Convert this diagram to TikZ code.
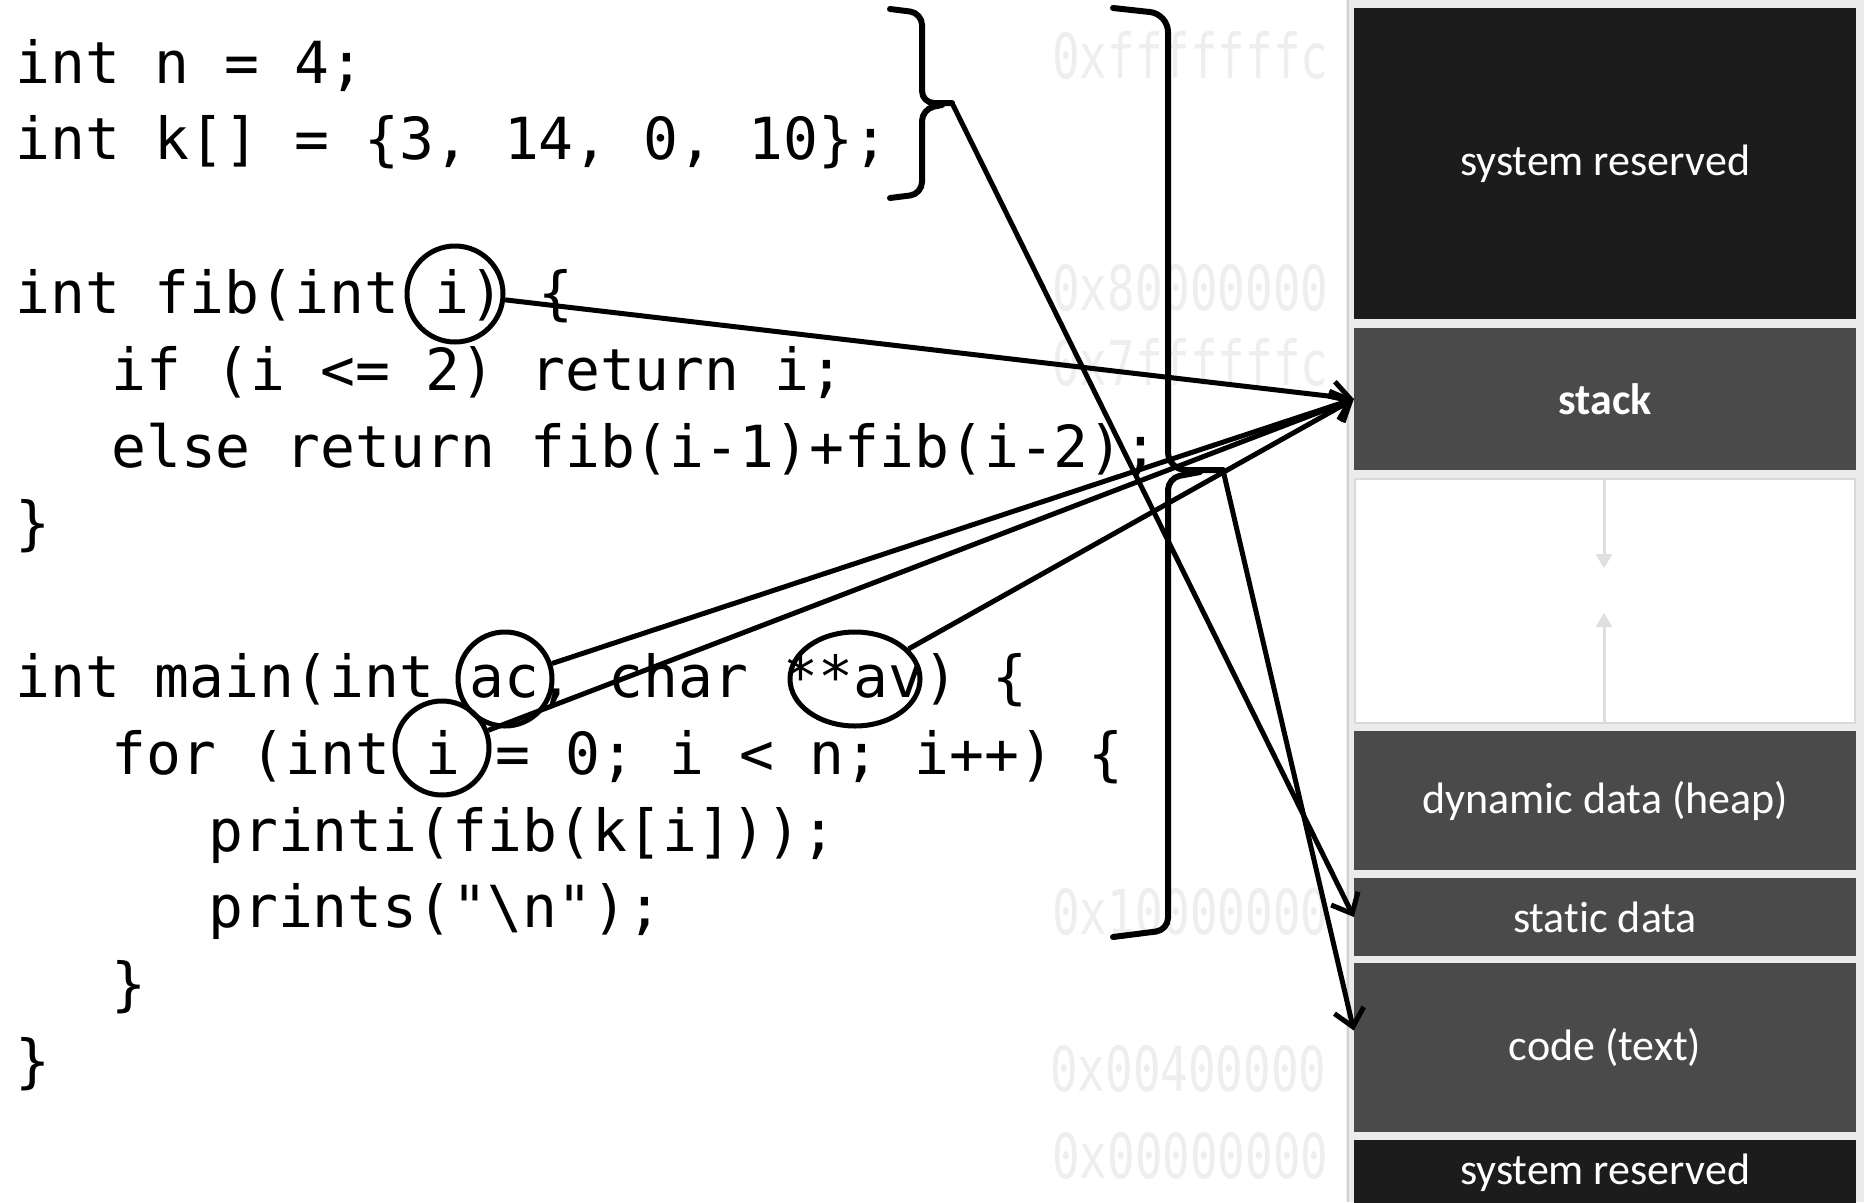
\documentclass[tikz,border=0pt]{standalone}
\usepackage{fontspec}
\setmonofont{DejaVu Sans Mono}
\newfontfamily\memfont{Carlito}[Ligatures=CommonOff]
\usetikzlibrary{arrows.meta,shapes.geometric}
\definecolor{memblack}{HTML}{1C1C1C}
\definecolor{memgray}{HTML}{4A4A4A}
\definecolor{panelgray}{HTML}{EBEBEB}
\definecolor{ghost}{HTML}{EEEEEE}
\begin{document}
\begin{tikzpicture}[x=1pt,y=-1pt,
  codeline/.style={anchor=base west, inner sep=0pt, font=\ttfamily\fontsize{58}{70}\selectfont},
  addr/.style={text=ghost, inner sep=0pt, anchor=west, font=\ttfamily\fontsize{62}{70}\selectfont},
  memblock/.style={inner sep=0pt, minimum width=502pt, text=white, font=\memfont\fontsize{44}{50}\selectfont},
  ring/.style={draw, line width=5pt, inner sep=0pt},
  brk/.style={line width=6pt, rounded corners=12pt, line cap=round},
  conn/.style={line width=5pt, -{Straight Barb[length=17pt,width=30pt]}},
  growth/.style={draw=gray!25, line width=3pt, -{Triangle[length=14pt,width=16pt]}}
]
\useasboundingbox (0,0) rectangle (1868,1202);
\fill[white] (0,0) rectangle (1868,1202);

% memory panel
\fill[panelgray] (1346,0) rectangle (1864,1202);
\draw[gray!35, line width=2pt] (1348,0) -- (1348,1202);
\node[memblock, fill=memblack, minimum height=311pt] (msys1) at (1605,163.5) {system reserved};
\node[memblock, fill=memgray, minimum height=142pt, font=\memfont\bfseries\fontsize{44}{50}\selectfont] (mstack) at (1605,399) {stack};
\node[memblock, fill=white, draw=gray!30, line width=1.5pt, minimum width=500pt, minimum height=244pt] (mfree) at (1605,601) {};
\node[memblock, fill=memgray, minimum height=139pt] (mheap) at (1605,800.5) {dynamic data (heap)};
\node[memblock, fill=memgray, minimum height=78pt] (mstatic) at (1605,917) {stat\kern0pt ic data};
\node[memblock, fill=memgray, minimum height=169pt] (mcode) at (1605,1047.5) {code (text)};
\node[memblock, fill=memblack, minimum height=66pt] (msys2) at (1605,1173) {system reserved};
\coordinate (freetop) at (1604,480);
\coordinate (freebot) at (1604,722);
\coordinate (downtip) at (1604,568);
\coordinate (uptip) at (1604,613);
\draw[growth] (freetop) -- (downtip);
\draw[growth] (freebot) -- (uptip);

% ghost address labels
\node[addr] (a1) at (1052,55) {\scalebox{0.74}[1]{0xfffffffc}};
\node[addr] (a2) at (1052,288) {\scalebox{0.74}[1]{0x80000000}};
\node[addr] (a3) at (1052,362) {\scalebox{0.74}[1]{0x7ffffffc}};
\node[addr] (a4) at (1052,912) {\scalebox{0.74}[1]{0x10000000}};
\node[addr] (a5) at (1050,1069) {\scalebox{0.74}[1]{0x00400000}};
\node[addr] (a6) at (1052,1156) {\scalebox{0.74}[1]{0x00000000}};

% code
\node[codeline] (l1) at (15,83) {int n = 4;};
\node[codeline] (l2) at (15,159.8) {int k[] = \{3, 14, 0, 10\};};
\node[codeline] (l4) at (15,313.4) {int fib(int i) \{};
\node[codeline] (l5) at (111,390.2) {if (i <= 2) return i;};
\node[codeline] (l6) at (111,467) {else return fib(i-1)+fib(i-2);};
\node[codeline] (l7) at (15,543.8) {\}};
\node[codeline] (l9) at (15,697.4) {int main(int ac, char **av) \{};
\node[codeline] (l10) at (111,774.2) {for (int i = 0; i < n; i++) \{};
\node[codeline] (l11) at (208,851) {printi(fib(k[i]));};
\node[codeline] (l12) at (208,927.8) {prints("\textbackslash n");};
\node[codeline] (l13) at (111,1004.6) {\}};
\node[codeline] (l14) at (15,1081.4) {\}};

% circled identifiers
\node[ring, circle, minimum size=96pt] (c1) at (455,294) {};
\node[ring, circle, minimum size=94pt] (c2) at (505,679) {};
\node[ring, circle, minimum size=94pt] (c3) at (442,748) {};
\node[ring, ellipse, minimum width=130pt, minimum height=94pt] (c4) at (855,679) {};

% brackets
\coordinate (n1) at (952,103);
\coordinate (n2) at (1223,470);
\draw[brk] (890,9) -- (922,13) -- (922,103) -- (n1);
\draw[brk] (942,105) -- (922,109) -- (922,194) -- (890,198);
\draw[brk, rounded corners=18pt] (1113,8) -- (1168,14) -- (1168,470) -- (n2);
\draw[brk] (1200,472) -- (1168,478) -- (1168,930) -- (1113,937);

% connectors
\coordinate (codetip) at ([yshift=17pt]mcode.west);
\draw[conn] (c1) -- (mstack.west);
\draw[conn] (c2) -- (mstack.west);
\draw[conn] (c3) -- (mstack.west);
\draw[conn] (c4) -- (mstack.west);
\draw[conn] (n1) -- (mstatic.west);
\draw[conn] (n2) -- (codetip);
\end{tikzpicture}
\end{document}
